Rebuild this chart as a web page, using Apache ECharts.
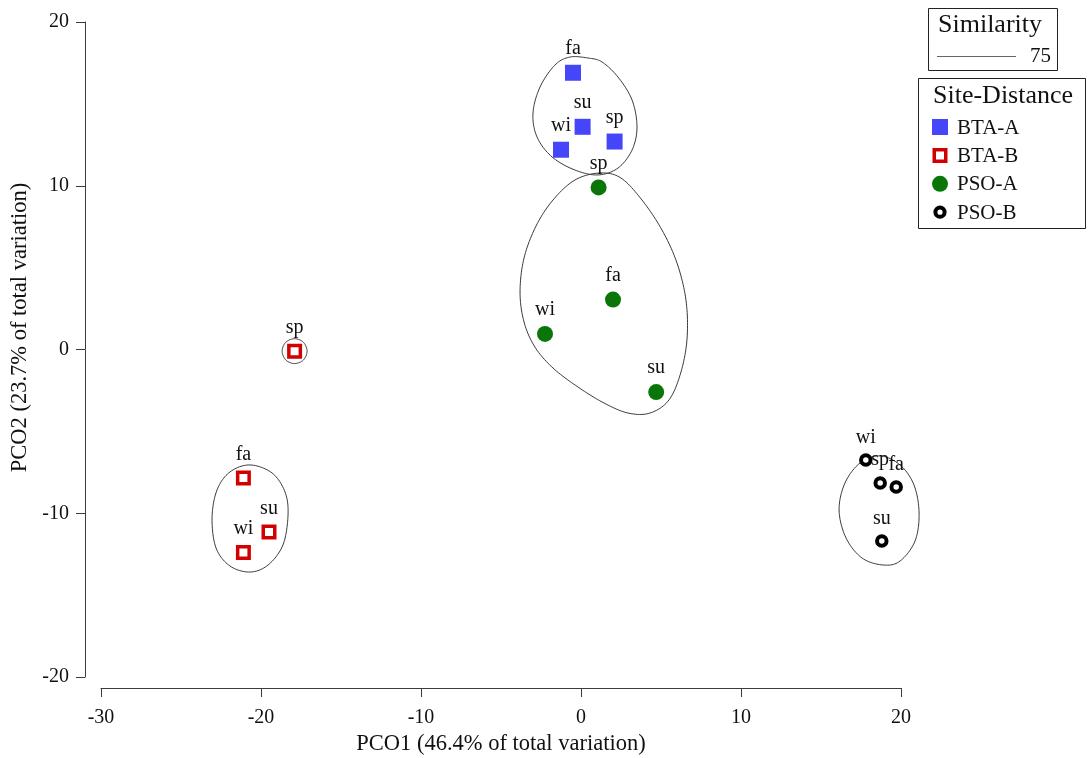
<!DOCTYPE html>
<html>
<head>
<meta charset="utf-8">
<script src="https://cdn.jsdelivr.net/npm/echarts@6/dist/echarts.min.js"></script>
<style>
  html, body { margin: 0; padding: 0; background: #fff; }
  #chart { width: 1090px; height: 758px; }
</style>
</head>
<body>
<div id="chart"></div>
<script>
// PCO ordination of sites by season
const seasonLabels = {
  btaA: ['fa', 'su', 'wi', 'sp'],
  btaB: ['sp', 'fa', 'su', 'wi'],
  psoA: ['sp', 'fa', 'wi', 'su'],
  psoB: ['wi', 'sp', 'fa', 'su']
};
const btaA = [[-0.5, 16.9], [0.1, 13.6], [-1.25, 12.2], [2.1, 12.7]];
const btaB = [[-17.9, -0.1], [-21.1, -7.85], [-19.5, -11.15], [-21.1, -12.4]];
const psoA = [[1.1, 9.9], [2.0, 3.05], [-2.25, 0.95], [4.7, -2.6]];
const psoB = [[17.8, -6.75], [18.7, -8.15], [19.7, -8.4], [18.8, -11.7]];

// similarity (75) cluster outlines, in PCO coordinates
const outlineBtaA = [[0.44, 17.8], [1.31, 17.56], [2.31, 16.64], [3.19, 15.24], [3.5, 13.59], [3.19, 12.18],
  [2.31, 11.08], [1.06, 10.66], [-0.38, 10.96], [-1.81, 11.76], [-2.75, 12.98], [-3.0, 14.44], [-2.56, 16.03],
  [-1.63, 17.37], [-0.69, 17.86]];
const outlinePsoA = [[1.19, 10.78], [2.5, 10.47], [3.81, 9.13], [5.06, 7.3], [6.0, 5.28], [6.56, 3.02], [6.63, 0.7],
  [6.25, -1.37], [5.5, -3.08], [4.31, -3.88], [2.94, -3.88], [1.44, -3.27], [-0.19, -2.29], [-1.75, -1.13],
  [-2.88, 0.15], [-3.56, 1.68], [-3.81, 3.51], [-3.56, 5.59], [-2.81, 7.54], [-1.75, 9.13], [-0.38, 10.35]];
const outlineBtaBsp = [[-17.9, 0.66], [-17.35, 0.44], [-17.12, -0.1], [-17.35, -0.64], [-17.9, -0.86],
  [-18.45, -0.64], [-18.68, -0.1], [-18.45, 0.44]];
const outlineBtaB = [[-20.69, -7.05], [-19.31, -7.54], [-18.5, -8.7], [-18.31, -10.11], [-18.63, -11.94], [-19.56, -13.16],
  [-20.69, -13.59], [-21.94, -13.22], [-22.81, -12.12], [-23.06, -10.29], [-22.75, -8.58], [-21.94, -7.48]];
const outlinePsoB = [[18.69, -6.5], [19.94, -7.05], [20.81, -8.27], [21.13, -9.98], [20.88, -11.69], [19.94, -12.92],
  [18.88, -13.16], [17.56, -12.73], [16.56, -11.5], [16.13, -9.8], [16.5, -8.15], [17.44, -6.93]];
const outlines = [outlineBtaA, outlinePsoA, outlineBtaBsp, outlineBtaB, outlinePsoB];

const xTicks = { min: -30, max: 20, step: 10 };
const yTicks = { min: -20, max: 20, step: 10 };

const groupNames = ['BTA-A', 'BTA-B', 'PSO-A', 'PSO-B'];

const serif = '"Liberation Serif", "Times New Roman", serif';
const axisColor = '#3c3c3c';
const textColor = '#111';

const styles = {
  'BTA-A': { color: '#4545fa', opacity: 1 },
  'BTA-B': { color: '#ffffff', borderColor: '#d20000', borderWidth: 3.5, opacity: 1 },
  'PSO-A': { color: '#0a760a', opacity: 1 },
  'PSO-B': { color: '#ffffff', borderColor: '#000000', borderWidth: 4, opacity: 1 }
};

const labelStyle = {
  show: true,
  position: 'top',
  distance: 6,
  fontFamily: serif,
  fontSize: 20,
  color: textColor
};

function pointSeries(name, data, labels, symbol, size) {
  return {
    name: name,
    type: 'scatter',
    z: 3,
    symbol: symbol,
    symbolSize: size,
    data: data.map((d, i) => ({ value: d, name: labels[i] })),
    itemStyle: styles[name],
    label: Object.assign({ formatter: p => p.name }, labelStyle),
    emphasis: { disabled: true }
  };
}

// closed Catmull-Rom curve through the outline vertices (pixel space)
function closedCurve(pts, steps) {
  const n = pts.length, out = [];
  for (let i = 0; i < n; i++) {
    const p0 = pts[(i - 1 + n) % n], p1 = pts[i], p2 = pts[(i + 1) % n], p3 = pts[(i + 2) % n];
    for (let s = 0; s < steps; s++) {
      const t = s / steps, t2 = t * t, t3 = t2 * t;
      const f = k => 0.5 * ((2 * p1[k]) + (-p0[k] + p2[k]) * t +
        (2 * p0[k] - 5 * p1[k] + 4 * p2[k] - p3[k]) * t2 +
        (-p0[k] + 3 * p1[k] - 3 * p2[k] + p3[k]) * t3);
      out.push([f(0), f(1)]);
    }
  }
  return out;
}

// legend keys (drawn inside the Site-Distance box)
const legendTop = 127, legendStep = 28.4, legendX = 940;
const legendKeys = [];
groupNames.forEach((g, i) => {
  const cy = legendTop + i * legendStep;
  const st = styles[g];
  let shape;
  if (g === 'BTA-A') shape = { type: 'rect', shape: { x: legendX - 8, y: cy - 8, width: 16, height: 16 }, style: { fill: st.color } };
  if (g === 'BTA-B') shape = { type: 'rect', shape: { x: legendX - 5.75, y: cy - 5.75, width: 11.5, height: 11.5 }, style: { fill: '#fff', stroke: st.borderColor, lineWidth: 3.5 } };
  if (g === 'PSO-A') shape = { type: 'circle', shape: { cx: legendX, cy: cy, r: 8 }, style: { fill: st.color } };
  if (g === 'PSO-B') shape = { type: 'circle', shape: { cx: legendX, cy: cy, r: 4.6 }, style: { fill: '#fff', stroke: st.borderColor, lineWidth: 4 } };
  legendKeys.push(shape);
  legendKeys.push({ type: 'text', x: 957, y: cy + 1, style: { text: g, font: '21px ' + serif, fill: textColor, verticalAlign: 'middle' } });
});

const chart = echarts.init(document.getElementById('chart'), null, { renderer: 'canvas' });

chart.setOption({
  animation: false,
  backgroundColor: '#ffffff',
  grid: { left: 101, right: 189, top: 22, bottom: 81, containLabel: false, outerBoundsMode: 'none' },
  xAxis: {
    type: 'value',
    min: xTicks.min, max: xTicks.max, interval: xTicks.step,
    position: 'bottom',
    offset: 11,
    name: 'PCO1 (46.4% of total variation)',
    nameLocation: 'middle',
    nameGap: 45,
    nameTextStyle: { fontFamily: serif, fontSize: 22.5, color: textColor },
    axisLine: { onZero: false, lineStyle: { color: axisColor, width: 1 } },
    axisTick: { show: true, length: 9, lineStyle: { color: axisColor } },
    axisLabel: { fontFamily: serif, fontSize: 20, color: textColor, margin: 20 },
    splitLine: { show: false }
  },
  yAxis: {
    type: 'value',
    min: yTicks.min, max: yTicks.max, interval: yTicks.step,
    position: 'left',
    offset: 16,
    name: 'PCO2 (23.7% of total variation)',
    nameLocation: 'middle',
    nameGap: 50,
    nameRotate: 90,
    nameTextStyle: { fontFamily: serif, fontSize: 22.5, color: textColor, padding: [0, 0, 0, 44] },
    axisLine: { onZero: false, lineStyle: { color: axisColor, width: 1 } },
    axisTick: { show: true, length: 9, lineStyle: { color: axisColor } },
    axisLabel: { fontFamily: serif, fontSize: 20, color: textColor, margin: 16 },
    splitLine: { show: false }
  },
  graphic: [
    { type: 'rect', shape: { x: 928.5, y: 8.5, width: 129, height: 62 }, style: { fill: '#fff', stroke: '#222', lineWidth: 1 } },
    { type: 'text', x: 938, y: 25, style: { text: 'Similarity', font: '26px ' + serif, fill: textColor, verticalAlign: 'middle' } },
    { type: 'line', shape: { x1: 937, y1: 56.5, x2: 1016, y2: 56.5 }, style: { stroke: '#666', lineWidth: 1 } },
    { type: 'text', x: 1030, y: 56, style: { text: '75', font: '21px ' + serif, fill: textColor, verticalAlign: 'middle' } },
    { type: 'rect', shape: { x: 918.5, y: 78.5, width: 167, height: 150 }, style: { fill: '#fff', stroke: '#222', lineWidth: 1 } },
    { type: 'text', x: 933, y: 96, style: { text: 'Site-Distance', font: '26px ' + serif, fill: textColor, verticalAlign: 'middle' } }
  ].concat(legendKeys),
  series: [
    {
      name: 'outlines',
      type: 'custom',
      z: 1,
      silent: true,
      data: outlines.map((_, i) => [i]),
      renderItem: function (params, api) {
        const pts = outlines[api.value(0)].map(p => api.coord(p));
        return {
          type: 'polygon',
          shape: { points: closedCurve(pts, 12) },
          style: { fill: 'none', stroke: '#3a3a3a', lineWidth: 1 }
        };
      }
    },
    pointSeries('BTA-A', btaA, seasonLabels.btaA, 'rect', 16),
    pointSeries('BTA-B', btaB, seasonLabels.btaB, 'rect', 11.5),
    pointSeries('PSO-A', psoA, seasonLabels.psoA, 'circle', 16),
    pointSeries('PSO-B', psoB, seasonLabels.psoB, 'circle', 9.5)
  ]
});
</script>
</body>
</html>
